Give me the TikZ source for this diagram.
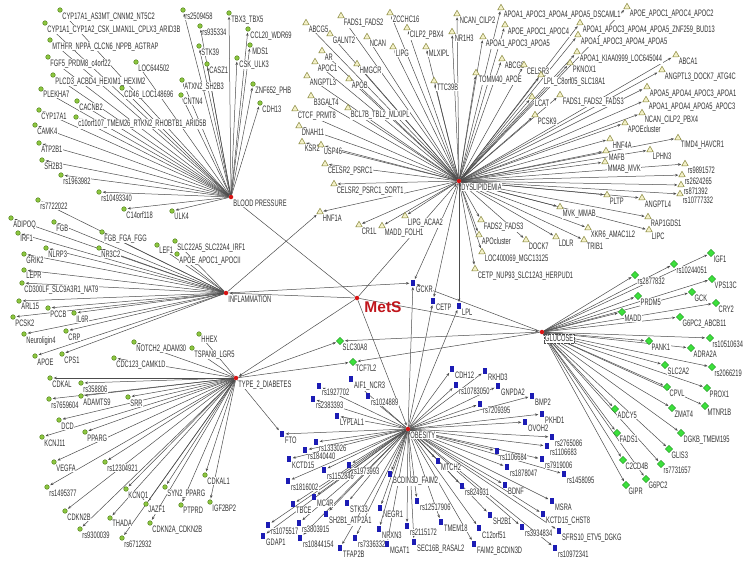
\documentclass[tikz,border=0pt]{standalone}
\usepackage{fontspec}
\newfontfamily\lblfont[FakeStretch=0.61]{Liberation Sans}
\newfontfamily\metsfont{Liberation Sans}
\usetikzlibrary{arrows.meta,shapes.geometric,backgrounds}

\definecolor{leaf}{HTML}{8CC63F}
\definecolor{leafdk}{HTML}{4D7A1A}
\definecolor{trifill}{HTML}{F4F1C8}
\definecolor{tridk}{HTML}{85853A}
\definecolor{sqblue}{HTML}{1C1CB4}
\definecolor{dmgreen}{HTML}{3CE03C}
\definecolor{dmdk}{HTML}{1E8A1E}
\definecolor{hubred}{HTML}{D81414}
\definecolor{metsred}{HTML}{C0161C}

\begin{document}
\begin{tikzpicture}
[x=1pt, y=-1pt,
lbl/.style={font=\lblfont\fontsize{9.4}{9.4}\selectfont, text=black!80, fill=white, inner sep=0.5pt},
edge/.style={draw=black!70, line width=0.5pt, -{Stealth[length=3.2pt,width=2.6pt]}, shorten >=1.2pt},
hub/.style={circle, fill=hubred, inner sep=0pt, minimum size=4.5pt, label={[lbl]below right:#1}},
leafnode/.style={circle, draw=leafdk, fill=leaf, line width=0.4pt, inner sep=0pt, minimum size=4.6pt, label={[lbl]below right:#1}},
trinode/.style={regular polygon, regular polygon sides=3, draw=tridk, fill=trifill, line width=0.5pt, inner sep=0pt, minimum size=7.5pt, label={[lbl]below right:#1}},
sqnode/.style={rectangle, fill=sqblue, inner sep=0pt, minimum width=4.6pt, minimum height=5.4pt, label={[lbl]below right:#1}},
dmnode/.style={diamond, draw=dmdk, fill=dmgreen, line width=0.4pt, inner sep=0pt, minimum size=7.5pt, label={[lbl]below right:#1}}]

\useasboundingbox (0,0) rectangle (751,566);

% hubs
\node[hub] (mets) at (357,298) {};
\node (metslabel) at (383,307) {\metsfont\fontsize{15.5}{15.5}\selectfont\bfseries\color{metsred}MetS};
\node[hub={BLOOD PRESSURE}] (bp) at (231,197) {};
\node[hub={DYSLIPIDEMIA}] (dys) at (459,181) {};
\node[hub={INFLAMMATION}] (infl) at (226,293) {};
\node[hub={TYPE\_2\_DIABETES}] (t2d) at (236,378) {};
\node[hub={OBESITY}] (obes) at (408,429) {};
\node[circle, fill=hubred, inner sep=0pt, minimum size=4.5pt,
  label={[lbl, draw=black!70, densely dotted, inner sep=1.2pt]below right:GLUCOSE}] (gluc) at (542,332) {};

\begin{scope}[on background layer]
\foreach \h in {bp,dys,infl,t2d,obes,gluc}
  \draw[edge] (mets) -- (\h);
\end{scope}

% blood pressure
\foreach \nm/\x/\y/\lab in {
b1/60/10/CYP17A1\_AS3MT\_CNNM2\_NT5C2, b2/45/23/CYP1A1\_CYP1A2\_CSK\_LMAN1L\_CPLX3\_ARID3B,
b3/50/40/MTHFR\_NPPA\_CLCN6\_NPPB\_AGTRAP, b4/48/57/FGF5\_PRDM8\_c4orf22, b5/136/62/LOC644502,
b6/53/75/PLCD3\_ACBD4\_HEXIM1\_HEXIM2, b7/122/88/CD46\_LOC148696, b8/41/89/PLEKHA7,
b9/77/101/CACNB2, b10/39/110/CYP17A1, b11/76/117/c10orf107\_TMEM26\_RTKN2\_RHOBTB1\_ARID5B,
b12/35/125/CAMK4, b13/39/143/ATP2B1, b14/42/160/SH2B3, b15/61/175/rs1963982,
b16/99/192/rs10493340, b17/124/209/C14orf118, b18/172/211/ULK4, b19/183/10/rs2509458,
b20/200/26/rs935334, b21/199/46/STK39, b22/207/64/CASZ1, b23/182/80/ATXN2\_SH2B3,
b24/181/95/CNTN4, b25/229/13/TBX3\_TBX5, b26/248/29/CCL20\_WDR69, b27/250/45/MDS1,
b28/237/58/CSK\_ULK3, b29/253/84/ZNF652\_PHB, b30/260/103/CDH13}{
  \node[leafnode=\lab] (\nm) at (\x,\y) {};
  \begin{scope}[on background layer]
    \draw[edge] (bp) -- (\nm);
  \end{scope}
}

% inflammation
\foreach \nm/\x/\y/\lab in {
i1/38/200/rs7722022, i2/11/218/ADIPOQ, i3/54/222/FGB, i4/102/232/FGB\_FGA\_FGG,
i5/18/233/IRF1, i6/46/248/NLRP3, i7/99/248/NR3C2, i8/157/245/LEF1,
i9/175/241/SLC22A5\_SLC22A4\_IRF1, i10/177/254/APOE\_APOC1\_APOCII, i11/24/254/GRIK2,
i12/24/270/LEPR, i13/22/283/CD300LF\_SLC9A3R1\_NAT9, i14/19/301/ARL15, i15/48/308/PCCB,
i16/74/313/IL6R, i17/13/317/PCSK2, i18/24/334/Neuroligin4, i19/66/331/CRP,
i20/35/356/APOE, i21/62/354/CPS1}{
  \node[leafnode=\lab] (\nm) at (\x,\y) {};
  \begin{scope}[on background layer]
    \draw[edge] (infl) -- (\nm);
  \end{scope}
}

% type 2 diabetes
\foreach \nm/\x/\y/\lab in {
t1/134/342/NOTCH2\_ADAM30, t2/199/334/HHEX, t3/192/348/TSPAN8\_LGR5, t4/114/358/CDC123\_CAMK1D,
t5/50/378/CDKAL, t6/81/383/rs358806, t7/81/396/ADAMTS9, t8/49/399/rs7659604, t9/128/397/SRR,
t10/59/420/DCD, t11/42/437/KCNJ11, t12/85/432/PPARG, t13/54/462/VEGFA, t14/105/462/rs12304921,
t15/47/487/rs1495377, t16/205/475/CDKAL1, t17/126/489/KCNQ1, t18/165/487/SYN2\_PPARG,
t19/210/502/IGF2BP2, t20/146/504/JAZF1, t21/181/505/PTPRD, t22/65/511/CDKN2B,
t23/110/518/THADA, t24/150/523/CDKN2A\_CDKN2B, t25/80/529/rs9300039, t26/122/538/rs6712932}{
  \node[leafnode=\lab] (\nm) at (\x,\y) {};
  \begin{scope}[on background layer]
    \draw[edge] (t2d) -- (\nm);
  \end{scope}
}

% dyslipidemia
\foreach \nm/\x/\y/\lab in {
d1/306/23/ABCG5, d2/341/16/FADS1\_FADS2, d3/390/13/ZCCHC16, d4/330/34/GALNT2, d5/367/37/NCAN,
d6/407/28/CILP2\_PBX4, d7/457/14/NCAN\_CILP2, d8/452/32/NR1H3, d9/322/51/AR, d10/393/47/LIPG,
d11/426/47/MLXIPL, d12/315/62/APOC1, d13/357/64/HMGCR, d14/307/76/ANGPTL3, d15/349/79/APOB,
d16/434/81/TTC39B, d17/311/96/B3GALT4, d18/348/108/BCL7B\_TBL2\_MLXIPL, d19/295/109/CTCF\_PRMT8,
d20/299/126/DNAH11, d21/302/142/KSR2, d22/321/145/USP46, d23/325/164/CELSR2\_PSRC1,
d24/334/184/CELSR2\_PSRC1\_SORT1, d25/320/212/HNF1A, d26/359/225/CR1L, d27/382/226/MADD\_FOLH1,
d28/405/216/LIPG\_ACAA2, d29/501/8/APOA1\_APOC3\_APOA4\_APOA5\_DSCAML1,
d30/627/7/APOE\_APOC1\_APOC4\_APOC2, d31/505/25/APOE\_APOC1\_APOC4,
d32/580/23/APOA1\_APOC3\_APOA4\_APOA5\_ZNF259\_BUD13, d33/483/37/APOA1\_APOC3\_APOA5,
d34/578/35/APOA1\_APOC3\_APOA4\_APOA5, d35/577/52/APOA1\_KIAA0999\_LOC645044, d36/676/55/ABCA1,
d37/502/59/ABCG8, d38/524/65/CELSR3, d39/570/63/PKNOX1, d40/541/75/LPL\_C8orf05\_SLC18A1,
d41/476/73/TOMM40\_APOE, d42/662/70/ANGPTL3\_DOCK7\_ATG4C, d43/647/87/APOA5\_APOA4\_APOC3\_APOA1,
d44/646/100/APOA1\_APOA4\_APOA5\_APOC3, d45/532/97/LCAT, d46/560/95/FADS1\_FADS2\_FADS3,
d47/535/115/PCSK9, d48/642/113/NCAN\_CILP2\_PBX4, d49/625/123/APOEcluster, d50/610/139/HNF4A,
d51/678/138/TIMD4\_HAVCR1, d52/606/151/MAFB, d53/650/150/LPHN3, d54/605/162/MMAB\_MVK,
d55/685/164/rs9891572, d56/682/175/rs2624265, d57/681/185/rs871392, d58/680/194/rs10777332,
d59/607/195/PLTP, d60/642/198/ANGPTL4, d61/560/207/MVK\_MMAB, d62/648/217/RAP1GDS1,
d63/588/228/XKR6\_AMAC1L2, d64/649/230/LIPC, d65/556/237/LDLR, d66/584/240/TRIB1,
d67/526/240/DOCK7, d68/481/220/FADS2\_FADS3, d69/479/235/APOcluster,
d70/482/252/LOC400069\_MGC13125, d71/475/269/CETP\_NUP93\_SLC12A3\_HERPUD1}{
  \node[trinode=\lab] (\nm) at (\x,\y) {};
  \begin{scope}[on background layer]
    \draw[edge] (dys) -- (\nm);
  \end{scope}
}

% glucose
\foreach \nm/\x/\y/\lab in {
g1/711/253/IGF1, g2/674/264/rs10244051, g3/635/275/rs2877832, g4/712/279/VPS13C,
g5/638/296/PRDM5, g6/692/292/GCK, g7/716/303/CRY2, g8/622/312/MADD, g9/680/317/G6PC2\_ABCB11,
g10/710/338/rs10510634, g11/649/341/PANK1, g12/691/348/ADRA2A, g13/665/365/SLC2A2,
g14/712/367/rs2066219, g15/667/387/CPVL, g16/707/388/PROX1, g17/672/408/ZMAT4,
g18/705/406/MTNR1B, g19/615/409/ADCY5, g20/617/433/FADS1, g21/681/433/DGKB\_TMEM195,
g22/669/449/GLIS3, g23/623/460/C2CD4B, g24/661/464/rs7731657, g25/646/479/G6PC2, g26/626/485/GIPR}{
  \node[dmnode=\lab] (\nm) at (\x,\y) {};
  \begin{scope}[on background layer]
    \draw[edge] (gluc) -- (\nm);
  \end{scope}
}

% obesity
\foreach \nm/\x/\y/\lab in {
o1/452/369/CDH12, o2/485/371/RKHD3, o3/456/385/rs10783050, o4/498/386/GNPDA2,
o5/480/404/rs7209395, o6/351/379/AIF1\_NCR3, o7/319/386/rs1927702, o8/368/396/rs1024889,
o9/313/399/rs2383393, o10/337/416/LYPLAL1, o11/532/396/BMP2, o12/542/414/PKHD1,
o13/525/422/OVOH2, o14/282/434/FTO, o15/316/442/rs1333026, o16/305/450/rs1840440,
o17/289/459/KCTD15, o18/349/465/rs1973993, o19/324/470/rs1152846, o20/390/474/BCDIN3D\_FAIM2,
o21/288/481/rs1816002, o22/314/497/MC4R, o23/293/504/TBCE, o24/347/503/STK33,
o25/380/508/NEGR1, o26/417/501/rs12517906, o27/326/514/SH2B1\_ATP2A1, o28/268/525/rs1075517,
o29/299/523/rs3803915, o30/263/536/GDAP1, o31/300/538/rs10844154, o32/379/529/NRXN3,
o33/407/526/rs2115172, o34/441/522/TMEM18, o35/479/528/C12orf51, o36/340/548/TFAP2B,
o37/355/538/rs7336332, o38/387/544/MGAT1, o39/414/542/SEC16B\_RASAL2, o40/474/544/FAIM2\_BCDIN3D,
o41/438/461/MTCH2, o42/462/486/rs824931, o43/490/515/SH2B1, o44/552/437/rs2765086,
o45/547/446/rs1106683, o46/497/451/rs1106684, o47/542/459/rs7919006, o48/564/474/rs1458095,
o49/507/467/rs1878047, o50/505/485/BDNF, o51/552/501/MSRA, o52/543/514/KCTD15\_CHST8,
o53/522/527/rs3934834, o54/559/531/SFRS10\_ETV5\_DGKG, o55/555/548/rs10972341}{
  \node[sqnode=\lab] (\nm) at (\x,\y) {};
  \begin{scope}[on background layer]
    \draw[edge] (obes) -- (\nm);
  \end{scope}
}

% shared genes
\node[sqnode=GCKR] (gckr) at (413,283) {};
\node[sqnode=CETP] (cetp) at (433,301) {};
\node[sqnode=LPL] (lpl) at (459,306) {};
\node[dmnode=SLC30A8] (slc) at (340,341) {};
\node[dmnode=TCF7L2] (tcf) at (353,362) {};

\begin{scope}[on background layer]
\foreach \g in {gckr,cetp,lpl}{
  \draw[edge] (dys) -- (\g);
  \draw[edge] (obes) -- (\g);
}
\draw[edge] (infl) -- (gckr);
\draw[edge] (gluc) -- (gckr);
\draw[edge] (infl) -- (d25);
\foreach \g in {slc,tcf}{
  \draw[edge] (t2d) -- (\g);
  \draw[edge] (gluc) -- (\g);
}
\draw[edge] (t2d) -- (o14);
\end{scope}

\end{tikzpicture}
\end{document}
